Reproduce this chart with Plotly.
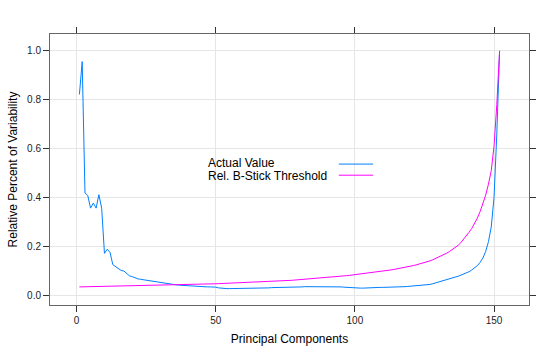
import plotly.graph_objects as go

components = list(range(1, 153))

actual_value = [
    0.822, 0.956, 0.419, 0.409, 0.357, 0.378, 0.357, 0.412, 0.357, 0.172,
    0.189, 0.176, 0.126, 0.118, 0.113, 0.102, 0.100, 0.091, 0.080, 0.077,
    0.072, 0.068, 0.066, 0.064, 0.062, 0.060, 0.058, 0.056, 0.054, 0.052,
    0.051, 0.050, 0.048, 0.047, 0.045, 0.043, 0.042, 0.041, 0.040, 0.039,
    0.038, 0.037, 0.036, 0.035, 0.035, 0.035, 0.035, 0.035, 0.035, 0.034,
    0.031, 0.029, 0.028, 0.028, 0.028, 0.028, 0.028, 0.028, 0.028, 0.028,
    0.028, 0.028, 0.029, 0.029, 0.029, 0.030, 0.030, 0.031, 0.031, 0.032,
    0.032, 0.033, 0.033, 0.033, 0.034, 0.034, 0.034, 0.035, 0.035, 0.035,
    0.035, 0.036, 0.036, 0.036, 0.036, 0.037, 0.037, 0.037, 0.037, 0.038,
    0.038, 0.038, 0.037, 0.036, 0.035, 0.034, 0.033, 0.032, 0.030, 0.029,
    0.029, 0.030, 0.030, 0.031, 0.031, 0.031, 0.032, 0.032, 0.033, 0.033,
    0.033, 0.034, 0.034, 0.034, 0.035, 0.035, 0.036, 0.036, 0.037, 0.038,
    0.038, 0.039, 0.040, 0.041, 0.042, 0.043, 0.045, 0.048, 0.051, 0.054,
    0.057, 0.060, 0.063, 0.067, 0.071, 0.075, 0.078, 0.082, 0.086, 0.091,
    0.097, 0.104, 0.112, 0.122, 0.135, 0.153, 0.180, 0.220, 0.280, 0.400,
    0.660, 1.000,
]

bstick_threshold = [
    0.0350, 0.0352, 0.0354, 0.0356, 0.0358, 0.0360, 0.0362, 0.0364, 0.0366, 0.0368,
    0.0370, 0.0372, 0.0374, 0.0376, 0.0378, 0.0380, 0.0382, 0.0384, 0.0386, 0.0388,
    0.0390, 0.0392, 0.0394, 0.0396, 0.0398, 0.0400, 0.0402, 0.0404, 0.0406, 0.0409,
    0.0412, 0.0415, 0.0418, 0.0421, 0.0424, 0.0427, 0.0430, 0.0433, 0.0436, 0.0440,
    0.0443, 0.0447, 0.0450, 0.0454, 0.0458, 0.0462, 0.0466, 0.0470, 0.0474, 0.0478,
    0.0482, 0.0486, 0.0490, 0.0494, 0.0498, 0.0502, 0.0506, 0.0510, 0.0514, 0.0518,
    0.0522, 0.0527, 0.0532, 0.0537, 0.0542, 0.0547, 0.0552, 0.0557, 0.0562, 0.0568,
    0.0575, 0.0582, 0.0589, 0.0596, 0.0603, 0.0610, 0.0618, 0.0626, 0.0634, 0.0642,
    0.0650, 0.0658, 0.0667, 0.0676, 0.0685, 0.0694, 0.0703, 0.0713, 0.0723, 0.0733,
    0.0743, 0.0753, 0.0764, 0.0775, 0.0786, 0.0797, 0.0809, 0.0821, 0.0834, 0.0847,
    0.0860, 0.0874, 0.0888, 0.0902, 0.0916, 0.0931, 0.0946, 0.0961, 0.0977, 0.0993,
    0.1010, 0.1027, 0.1045, 0.1063, 0.1082, 0.1102, 0.1124, 0.1147, 0.1171, 0.1196,
    0.1222, 0.1250, 0.1279, 0.1310, 0.1343, 0.1378, 0.1415, 0.1460, 0.1510, 0.1560,
    0.1610, 0.1670, 0.1730, 0.1800, 0.1870, 0.1950, 0.2040, 0.2150, 0.2280, 0.2430,
    0.2580, 0.2740, 0.2930, 0.3160, 0.3430, 0.3740, 0.4100, 0.4550, 0.5100, 0.6100,
    0.7800, 1.0000,
]

series_names = ["Actual Value", "Rel. B-Stick Threshold"]
series_colors = ["#0080ff", "#ff00ff"]
x_ticks = [0, 50, 100, 150]
y_ticks = [0.0, 0.2, 0.4, 0.6, 0.8, 1.0]

FONT = "Liberation Sans, Arial, Helvetica, sans-serif"

fig = go.Figure()
for name, vals, col in zip(series_names, [actual_value, bstick_threshold], series_colors):
    fig.add_trace(go.Scatter(x=components, y=vals, mode="lines", name=name,
                             line=dict(color=col, width=1), showlegend=False))

# lattice-style key: text on the left, line sample on the right
key_text_y = [0.523, 0.477]
key_line_y = [0.520, 0.479]
for name, col, ty, ly in zip(series_names, series_colors, key_text_y, key_line_y):
    fig.add_annotation(x=0.327, y=ty, xref="paper", yref="paper", text=name,
                       showarrow=False, xanchor="left", yanchor="middle",
                       borderpad=0,
                       font=dict(family=FONT, size=12, color="#000000"))
    fig.add_shape(type="line", xref="paper", yref="paper", x0=0.603, x1=0.6746,
                  y0=ly, y1=ly, line=dict(color=col, width=1))

axis_common = dict(
    showline=True, linecolor="#666666", linewidth=1, mirror="ticks",
    ticks="outside", ticklen=6, tickcolor="#333333", tickwidth=1,
    showgrid=True, gridcolor="#e6e6e6", gridwidth=1, zeroline=False,
    tickfont=dict(family=FONT, size=10, color="#222222"),
)

fig.update_xaxes(range=[-9.57, 162.57], tickvals=x_ticks,
                 title=dict(text="Principal Components", standoff=9,
                            font=dict(family=FONT, size=12, color="#000000")),
                 **axis_common)
fig.update_yaxes(range=[-0.039, 1.069], tickvals=y_ticks, tickformat=".1f",
                 title=dict(text="Relative Percent of Variability", standoff=6,
                            font=dict(family=FONT, size=12, color="#000000")),
                 **axis_common)

fig.update_layout(
    width=558, height=356,
    margin=dict(l=50, r=29, t=34, b=51),
    paper_bgcolor="white", plot_bgcolor="white",
    font=dict(family=FONT),
)

fig.write_html("out.html", config={"displayModeBar": False},
               post_script="document.body.style.margin='0';document.body.style.padding='0';")
